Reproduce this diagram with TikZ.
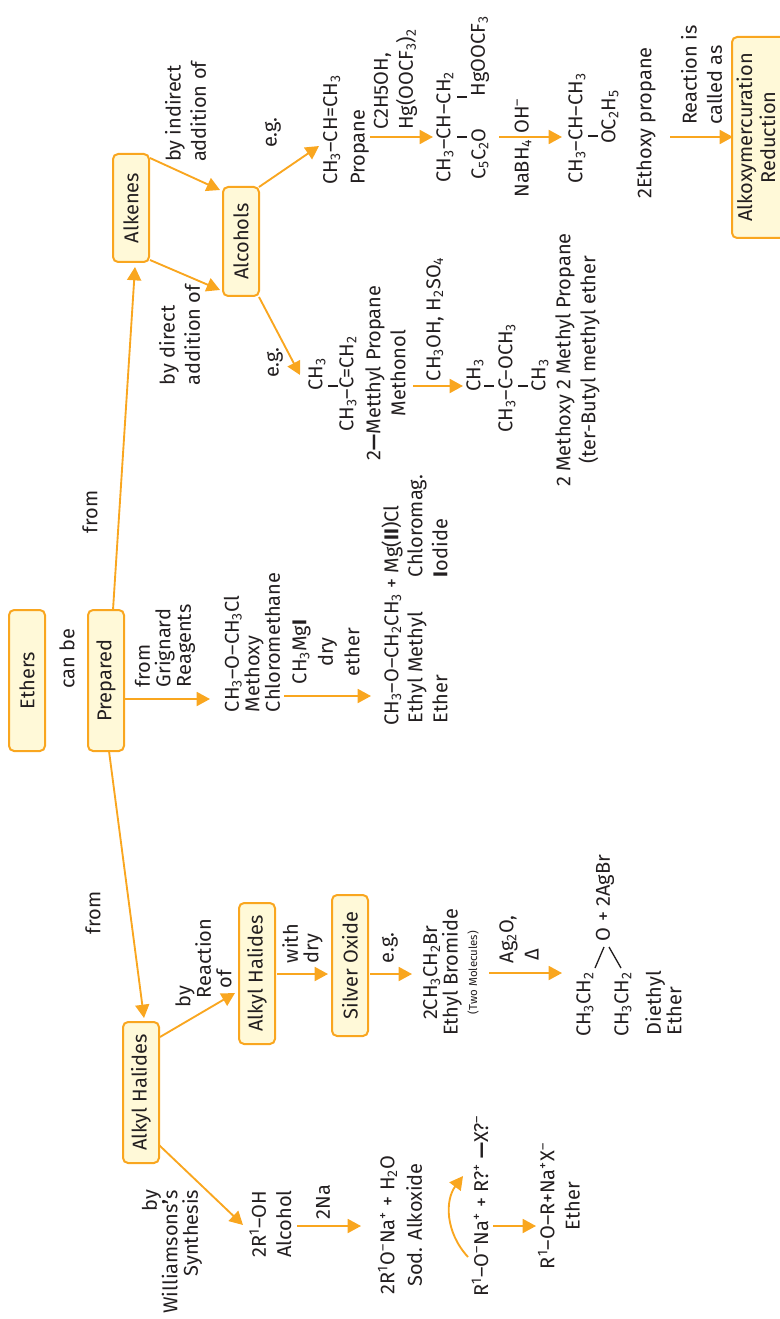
\documentclass[tikz,border=0pt]{standalone}
\usepackage{fontspec}
\setmainfont{Fira Sans}
\usetikzlibrary{arrows.meta}
\definecolor{org}{HTML}{F9A61F}
\definecolor{pale}{HTML}{FFF9D8}
\definecolor{ink}{HTML}{231F20}
\newcommand{\sbs}[1]{\textsubscript{#1}}
\newcommand{\sps}[1]{\textsuperscript{#1}}
\tikzset{
  x=0.75pt,y=-0.75pt,
  lbl/.style={rotate=90,align=center,inner sep=0pt,outer sep=0pt,text=ink,font=\fontsize{15}{15}\selectfont},
  lleft/.style={lbl,align=left,anchor=west},
  lright/.style={lbl,align=right,anchor=east},
  lsa/.style={font=\fontsize{15}{15.4}\selectfont},
  lsb/.style={font=\fontsize{15}{18.9}\selectfont},
  lsc/.style={font=\fontsize{15}{20.6}\selectfont},
  boxn/.style={lbl,draw=org,line width=1.5pt,fill=pale,rounded corners=3.8pt,minimum height=27pt},
  tick/.style={fill=ink,inner sep=0pt,minimum width=8pt,minimum height=1.3pt},
  arr/.style={draw=org,line width=1.4pt,-{Triangle[length=10pt,width=10.5pt]}},
  bond/.style={draw=ink,line width=1pt},
}
\begin{document}
\begin{tikzpicture}
\useasboundingbox (0,0) rectangle (780,1319);
% boxes
\node[boxn,minimum width=105.75pt] (ethers) at (27,680.5) {Ethers};
\node[boxn,minimum width=105.75pt] (prep) at (106,680.5) {Prepared};
\node[boxn,minimum width=81pt] (alkenes) at (131,208) {Alkenes};
\node[boxn,minimum width=81.75pt] (alcohols) at (241,241.5) {Alcohols};
\node[boxn,minimum width=105.75pt] (ahone) at (141,1092.5) {Alkyl Halides};
\node[boxn,minimum width=105.75pt] (ahtwo) at (257,973.5) {Alkyl Halides};
\node[boxn,minimum width=105.75pt] (silver) at (350,965.5) {Silver Oxide};
\node[boxn,minimum width=150.75pt,minimum height=42pt] (alkoxy) at (760,137.5) {};
\node[lbl,font=\fontsize{15}{17.2}\selectfont] (alkoxytext) at (756,137.5) {Alkoxymercuration\\Reduction};
% labels
\node[lbl] (canbe) at (67,658.5) {can be};
\node[lbl] (fromone) at (90,512) {from};
\node[lbl] (fromtwo) at (93,913) {from};
\node[lleft,lsa] (grig) at (165,687) {from\\Grignard\\Reagents};
\node[lleft,lsb] (direct) at (179.5,385) {by direct\\addition of};
\node[lleft,lsb] (indirect) at (185.5,162) {by indirect\\addition of};
\node[lbl] (egone) at (273,132.5) {e.g.};
\node[lbl] (egtwo) at (275,362.5) {e.g.};
\node[lleft,lsc] (propane) at (346,185) {CH\sbs{3}–CH=CH\sbs{3}\\Propane};
\node[lleft,lsb] (ctwo) at (395.5,130) {C2H5OH,\\Hg(OOCF\sbs{3})\sbs{2}};
\node[lbl] (chain) at (445,127) {CH\sbs{3}–CH–CH\sbs{2}};
\node[tick] (tka) at (462,137) {};
\node[tick] (tkb) at (462,97) {};
\node[lbl] (cfive) at (480,154) {C\sbs{5}C\sbs{2}O};
\node[lbl] (hgo) at (480,56) {HgOOCF\sbs{3}};
\node[lbl] (nabh) at (523,148) {NaBH\sbs{4} OH\sps{–}};
\node[lbl] (chainb) at (577,128.5) {CH\sbs{3}–CH–CH\sbs{3}};
\node[tick] (tkc) at (593,136) {};
\node[lbl] (oc) at (610,117) {OC\sbs{2}H\sbs{5}};
\node[lbl] (ethoxy) at (646,123) {2Ethoxy propane};
\node[lleft,lsb] (reaction) at (701.5,125) {Reaction is\\called as};
% direct addition branch
\node[lbl] (cha) at (317,374) {CH\sbs{3}};
\node[tick] (tkd) at (333,386) {};
\node[lbl] (chc) at (348,384) {CH\sbs{3}–C=CH\sbs{2}};
\node[lbl,lsb] (metthyl) at (385.5,373) {2\textbf{—}Metthyl Propane\\Methonol};
\node[lbl] (reag) at (435,319) {CH\sbs{3}OH, H\sbs{2}SO\sbs{4}};
\node[lbl] (chb) at (475,375) {CH\sbs{3}};
\node[tick] (tke) at (489,386) {};
\node[lbl] (cho) at (507,378) {CH\sbs{3}–C–OCH\sbs{3}};
\node[tick] (tkf) at (523,386) {};
\node[lbl] (chd) at (540,375) {CH\sbs{3}};
\node[lbl,lsb] (methoxy) at (577.5,360) {2 Methoxy 2 Methyl Propane\\(ter-Butyl methyl ether};
% Grignard branch
\node[lleft,lsa] (meth) at (252,712) {CH\sbs{3}–O–CH\sbs{3}Cl\\Methoxy\\Chloromethane};
\node[lbl,font=\fontsize{15}{19.9}\selectfont] (grigr) at (326,652) {CH\sbs{3}Mg\textbf{I}\\dry\\ether};
\node[lbl] (etm) at (392,615.5) {CH\sbs{3}–O–CH\sbs{2}CH\sbs{3} + Mg(\textbf{II})Cl};
\node[lleft,lsb] (ethm) at (427.5,723) {Ethyl Methyl\\Ether};
\node[lleft,lsb] (chloro) at (427.5,577) {Chloromag.\\\textbf{I}odide};
% silver oxide branch
\node[lleft,lsa,align=left] (by) at (203.5,1007) {by\\\hspace*{6.75pt}Reaction\\\hspace*{14pt}of};
\node[lleft,lsa] (withdry) at (302.5,963) {with\\dry};
\node[lleft] (egthree) at (390,963) {e.g.};
\node[lbl,lsa] (ebr) at (442.5,972.5) {2CH\sbs{3}CH\sbs{2}Br\\Ethyl Bromide};
\node[lbl,font=\fontsize{8.6}{9}\selectfont] (two) at (473,972.5) {(Two Molecules)};
\node[lleft,lsb] (ago) at (519,963) {Ag\sbs{2}O,\\\hspace*{2.25pt}Δ};
\node[lbl] (upper) at (585,1004.5) {CH\sbs{3}CH\sbs{2}};
\node[lbl] (lower) at (623,1004.5) {CH\sbs{3}CH\sbs{2}};
\node[lbl] (agbr) at (605,898) {O + 2AgBr};
\node[lleft,lsa] (diethyl) at (663.5,1035) {Diethyl\\Ether};
% Williamson branch
\node[lright,lsa] (will) at (172,1190) {by\\Williamsons\textbf{'}s\\Synthesis};
\node[lbl,lsb] (tworo) at (270.5,1224) {2R\sps{1}–OH\\Alcohol};
\node[lbl] (twona) at (323,1202) {2Na};
\node[lbl,lsc] (sod) at (400,1225) {2R\sps{1}O\sps{–}Na\sps{+} + H\sbs{2}O\\Sod. Alkoxide};
\node[lbl] (rone) at (480,1206) {R\sps{1}–O\sps{–}Na\sps{+} + R?\sps{+} \textbf{—}X?\sps{–}};
\node[lbl,lsb] (prod) at (559,1206) {R\sps{1}–O–R+Na\sps{+}X\sps{–}\\Ether};
% connectors
\draw[arr] ([shift={(7,-70.5)}]prep.center) -- ([shift={(4,59)}]alkenes.center);
\draw[arr] ([shift={(3,70.5)}]prep.center) -- ([shift={(3,-74.5)}]ahone.center);
\draw[arr] ([shift={(19,18.5)}]prep.center) -- ([shift={(-42,-13)}]meth.west);
\draw[arr] ([shift={(19,-50)}]alkenes.center) -- ([shift={(-21,-51.5)}]alcohols.center);
\draw[arr] ([shift={(19,52)}]alkenes.center) -- ([shift={(-21,48.5)}]alcohols.center);
\draw[arr] ([shift={(18,-54.5)}]alcohols.center) -- ([shift={(-27,-39)}]propane.west);
\draw[arr] ([shift={(18,55.5)}]alcohols.center) -- ([shift={(-17,1)}]cha.center);
\draw[arr] ([shift={(19,-55.5)}]ahone.center) -- ([shift={(-22,19.5)}]ahtwo.center);
\draw[arr] ([shift={(18,52.5)}]ahone.center) -- ([shift={(-27.5,1)}]tworo.center);
\draw[arr] ([shift={(26.5,2)}]tworo.center) -- ([shift={(-39,1)}]sod.center);
\draw[arr] ([shift={(20,0.5)}]ahtwo.center) -- ([shift={(-22,8.5)}]silver.center);
\draw[arr] ([shift={(20,8.5)}]silver.center) -- ([shift={(-30.5,1.5)}]ebr.center);
\draw[arr] ([shift={(16,0.5)}]two.center) -- ([shift={(-23,-31.5)}]upper.center);
\draw[bond] ([shift={(10,-36.5)}]upper.center) -- ([shift={(-1,49)}]agbr.center);
\draw[bond] ([shift={(-2,-36.5)}]lower.center) -- ([shift={(4,49)}]agbr.center);
\draw[arr] ([shift={(-12,51)}]rone.center) .. controls ([shift={(-35,26)}]rone.center) and ([shift={(-35,-6)}]rone.center) .. ([shift={(-17,-30)}]rone.center);
\draw[arr] ([shift={(13,20)}]rone.center) -- ([shift={(-23,20)}]prod.center);
\draw[arr] ([shift={(24,-48)}]propane.west) -- ([shift={(-12,10)}]chain.center);
\draw[arr] ([shift={(19,-17)}]cfive.center) -- ([shift={(-15,8.5)}]chainb.center);
\draw[arr] ([shift={(24,14)}]ethoxy.center) -- ([shift={(-27,-0.5)}]alkoxy.center);
\draw[arr] ([shift={(27.5,13)}]metthyl.center) -- ([shift={(-12,11)}]chb.center);
\draw[arr] ([shift={(32,-16)}]meth.west) -- ([shift={(-21,80.5)}]etm.center);
\end{tikzpicture}
\end{document}
